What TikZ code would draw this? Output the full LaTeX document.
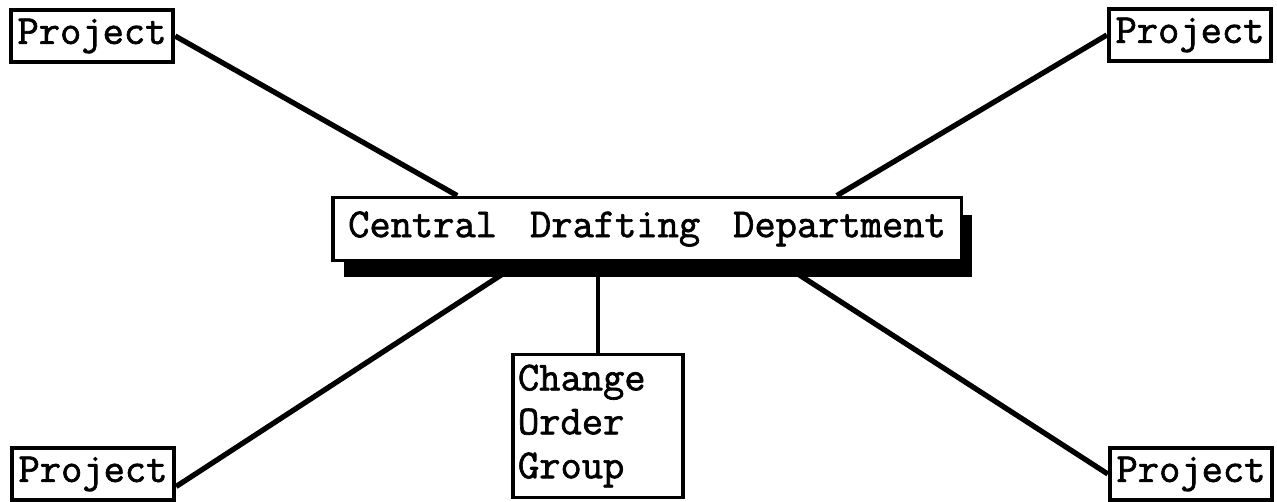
\documentclass[tikz,border=0pt]{standalone}
\usepackage{fontspec}
\newfontfamily\typefont[FakeBold=1.6]{Latin Modern Mono}
\usetikzlibrary{positioning,calc,shadows}

\begin{document}
\begin{tikzpicture}[
  x=0.02cm, y=-0.02cm,
  box/.style={draw=black, line width=2.2pt, fill=white, inner sep=3pt, font=\fontsize{23.5}{25}\selectfont\typefont},
  project/.style={box, minimum width=3.25cm, minimum height=1.04cm},
  link/.style={line width=3pt, black}
]
\useasboundingbox (0,0) rectangle (1277,501);

% central office with heavy shadow
\node[box, minimum width=12.58cm, minimum height=1.26cm,
  drop shadow={shadow xshift=0.22cm, shadow yshift=-0.34cm, opacity=1, fill=black}]
  (cdd) at (647,229) {Central\hspace{0.8em}Drafting\hspace{0.8em}Department};

\node[project] (projTL) at (92,36) {Project};
\node[project] (projTR) at (1190,35) {Project};
\node[project] (projBL) at (93,474) {Project};
\node[project] (projBR) at (1191,474) {Project};

\node[box, align=left, text width=3.2cm, minimum height=2.86cm] (cog) at (598,426) {Change\\Order\\Group};

\draw[link] (projTL.east) -- ($(cdd.north west)!0.2!(cdd.north east)$);
\draw[link] (projTR.west) -- ($(cdd.north west)!0.8!(cdd.north east)$);
\draw[link] ([yshift=-0.25cm]projBL.east) -- ($(cdd.south west)!0.3!(cdd.south east)$);
\draw[link] ($(cdd.south west)!0.71!(cdd.south east)$) -- (projBR.west);
\draw[link, line width=1.8pt] (cog.north) -- (cog.north |- cdd.south);

\end{tikzpicture}
\end{document}
